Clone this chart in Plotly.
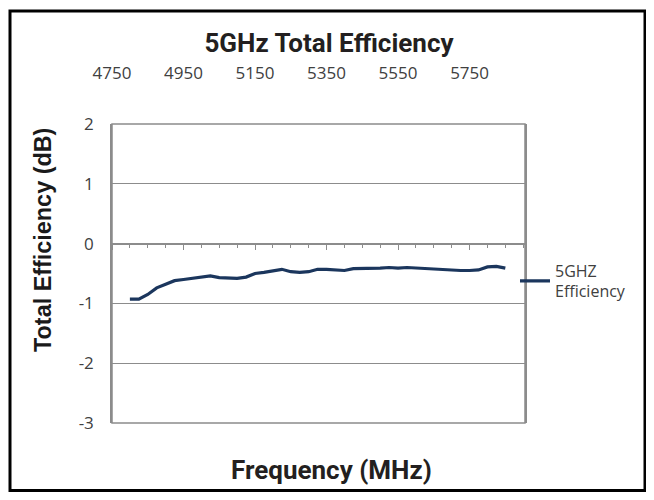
import plotly.graph_objects as go

# ---- data ----
freq_mhz = list(range(4800, 5851, 25))
efficiency_db = [-0.93, -0.93, -0.85, -0.74, -0.68, -0.62, -0.60, -0.58, -0.55, -0.54,
                 -0.57, -0.57, -0.58, -0.56, -0.50, -0.48, -0.45, -0.43, -0.47, -0.48,
                 -0.47, -0.43, -0.43, -0.44, -0.45, -0.42, -0.42, -0.42, -0.41, -0.40,
                 -0.41, -0.40, -0.41, -0.42, -0.43, -0.43, -0.44, -0.45, -0.45, -0.44,
                 -0.39, -0.38, -0.41]
top_tick_vals = [4750, 4950, 5150, 5350, 5550, 5750]
y_tick_vals = [-3, -2, -1, 0, 1, 2]
series_name = "5GHZ<br>Efficiency"

# ---- layout geometry (page body has an 8px margin on every side) ----
OFF = 8
W, H = 638, 484
L, R, T, B = 104, 121, 52, 69
PW, PH = W - L - R, H - T - B


def px_x(px):
    return (px - OFF - L) / PW


def px_y(py):
    return (H - B - (py - OFF)) / PH


y_dom = [0, px_y(124)]
y_rng = [-3, 2]
x_rng = [4750, 5905]
zero_pos = y_dom[0] + (0 - y_rng[0]) / (y_rng[1] - y_rng[0]) * (y_dom[1] - y_dom[0])

GRID = "#8c8c8c"
TXT = "#404040"
HEAD_FONT = "Roboto, Liberation Sans, Arial, sans-serif"

fig = go.Figure()
fig.add_trace(go.Scatter(
    x=freq_mhz, y=efficiency_db, mode="lines", name=series_name,
    line=dict(color="#1B365D", width=3.2),
))
fig.add_trace(go.Scatter(
    x=[top_tick_vals[0]], y=[0], xaxis="x2", yaxis="y", mode="markers",
    marker=dict(opacity=0), showlegend=False, hoverinfo="skip",
))

fig.update_layout(
    width=W, height=H,
    margin=dict(l=L, r=R, t=T, b=B),
    paper_bgcolor="white", plot_bgcolor="white",
    title=dict(
        text="5GHz Total Efficiency",
        font=dict(family=HEAD_FONT, size=26, color="#231f20", weight="bold"),
        x=(329 - OFF) / W, xref="container", xanchor="center",
        y=1 - (43 - OFF) / H, yref="container", yanchor="middle",
    ),
    xaxis=dict(
        range=x_rng, domain=[0, 1], anchor="free", position=zero_pos,
        showline=True, linecolor=GRID, linewidth=1.5,
        ticks="outside", tick0=4750, dtick=200, ticklen=6, tickcolor=GRID, tickwidth=1.2,
        minor=dict(ticks="outside", tick0=4750, dtick=50, ticklen=4, tickcolor=GRID, tickwidth=1.2),
        showticklabels=False, showgrid=False, zeroline=False,
    ),
    xaxis2=dict(
        range=x_rng, overlaying="x", side="top", anchor="free", position=px_y(82),
        tickvals=top_tick_vals, ticktext=[str(v) for v in top_tick_vals],
        showline=False, ticks="", showgrid=False, zeroline=False,
        tickfont=dict(family="Open Sans, sans-serif", size=17, color=TXT),
    ),
    yaxis=dict(
        range=y_rng, domain=y_dom, tickvals=y_tick_vals,
        ticktext=[str(v) for v in y_tick_vals],
        showgrid=True, gridcolor=GRID, gridwidth=1.2, zeroline=False,
        showline=True, linecolor=GRID, linewidth=1.5, mirror=True,
        ticks="", ticklabelstandoff=13,
        tickfont=dict(family="Open Sans, sans-serif", size=17, color=TXT),
    ),
    legend=dict(
        x=px_x(515), y=px_y(281), xanchor="left", yanchor="middle",
        bgcolor="rgba(0,0,0,0)",
        font=dict(family="Open Sans, sans-serif", size=16, color=TXT),
    ),
    annotations=[
        dict(
            text="Frequency (MHz)", x=px_x(331), y=px_y(470), xref="paper", yref="paper",
            xanchor="center", yanchor="middle", showarrow=False,
            font=dict(family=HEAD_FONT, size=26, color="#231f20", weight="bold"),
        ),
        dict(
            text="Total Efficiency (dB)", x=px_x(43), y=px_y(240), xref="paper", yref="paper",
            xanchor="center", yanchor="middle", showarrow=False, textangle=-90,
            font=dict(family="Liberation Sans, Arial, sans-serif", size=23.4,
                      color="#1a1a1a", weight="bold"),
        ),
    ],
    shapes=[
        dict(type="rect", xref="x domain", yref="y domain", x0=0, x1=1, y0=0, y1=1,
             line=dict(color=GRID, width=1.5)),
        dict(type="rect", xref="paper", yref="paper",
             x0=px_x(10), x1=px_x(645), y0=px_y(490.5), y1=px_y(11),
             line=dict(color="black", width=3)),
    ],
)

fig.write_html("out.html")
